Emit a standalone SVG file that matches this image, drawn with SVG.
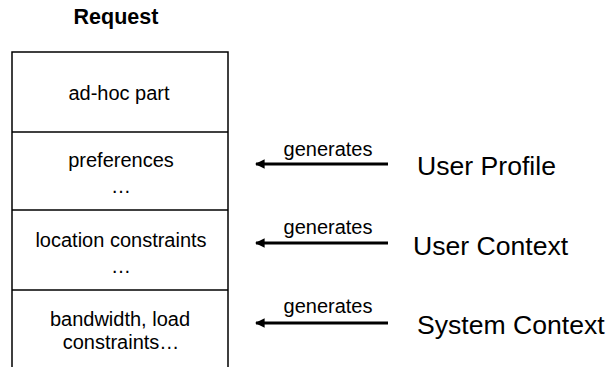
<svg xmlns="http://www.w3.org/2000/svg" width="608" height="367" viewBox="0 0 608 367">
  <style>
    text { font-family: "Liberation Sans", Arial, sans-serif; fill: #000; }
    .title { font-size: 21.5px; font-weight: bold; text-anchor: middle; }
    .cell { font-size: 20px; text-anchor: middle; }
    .lbl { font-size: 20px; text-anchor: middle; }
    .src { font-size: 26.6px; }
    .frame { fill: none; stroke: #000; stroke-width: 1.5; }
    .gen { stroke: #000; stroke-width: 3; fill: none; marker-start: url(#head); }
  </style>
  <defs>
    <marker id="head" viewBox="0 0 10 10" refX="1" refY="5" markerWidth="3.2" markerHeight="3.2" orient="auto" markerUnits="strokeWidth">
      <path d="M10,0 L0,5 L10,10 Z" fill="#000"/>
    </marker>
  </defs>

  <text class="title" x="116" y="24">Request</text>

  <!-- request frame: open at the bottom -->
  <g id="request">
    <path class="frame" d="M12,367 V52 H228 V367"/>
    <line class="frame" x1="12" y1="132" x2="228" y2="132"/>
    <line class="frame" x1="12" y1="210" x2="228" y2="210"/>
    <line class="frame" x1="12" y1="290" x2="228" y2="290"/>
  </g>

  <g id="adhoc">
    <text class="cell" x="119" y="100">ad-hoc part</text>
  </g>
  <g id="preferences">
    <text class="cell" x="121" y="167">preferences</text>
    <text class="cell" x="121" y="193">…</text>
  </g>
  <g id="location">
    <text class="cell" x="121" y="247">location constraints</text>
    <text class="cell" x="121" y="273">…</text>
  </g>
  <g id="bandwidth">
    <text class="cell" x="120" y="326">bandwidth, load</text>
    <text class="cell" x="121" y="349">constraints…</text>
  </g>

  <g id="userProfile">
    <text class="src" x="417" y="175">User Profile</text>
  </g>
  <g id="userContext">
    <text class="src" x="413" y="255">User Context</text>
  </g>
  <g id="systemContext">
    <text class="src" x="417" y="334">System Context</text>
  </g>

  <g id="connectors">
    <path class="gen" d="M256,164 H388"/>
    <text class="lbl" x="328" y="156">generates</text>
    <path class="gen" d="M256,243 H388"/>
    <text class="lbl" x="328" y="234">generates</text>
    <path class="gen" d="M256,323 H388"/>
    <text class="lbl" x="328" y="313">generates</text>
  </g>
</svg>
